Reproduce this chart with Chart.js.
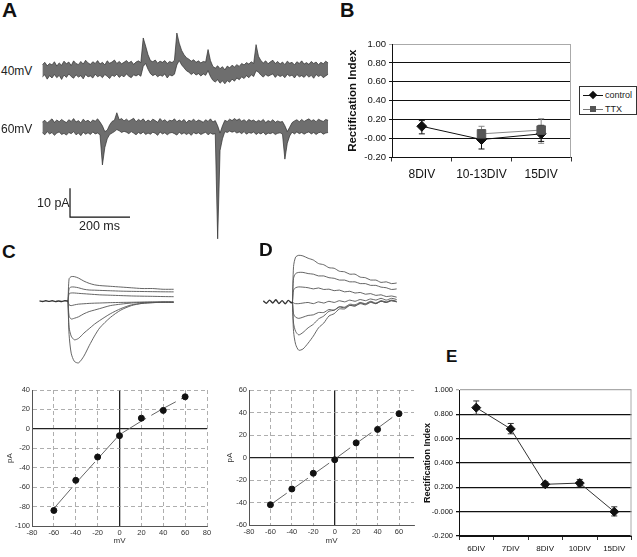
<!DOCTYPE html>
<html>
<head>
<meta charset="utf-8">
<script src="https://cdn.jsdelivr.net/npm/chart.js@4.4.1/dist/chart.umd.min.js"></script>
<style>
  body { margin: 0; background: #fff; }
  #page { position: relative; width: 637px; height: 557px; overflow: hidden; background: #fff;
          font-family: 'Liberation Sans', Arial, sans-serif; color: #222; }
  canvas { position: absolute; }
  .lbl { position: absolute; font-weight: bold; line-height: 1; color: #111; }
  .txt { position: absolute; font-size: 12px; line-height: 12px; color: #222; white-space: nowrap; }
  #legB { position: absolute; left: 579px; top: 86px; width: 56px; height: 27px; border: 1px solid #333;
          font-size: 9px; line-height: 10px; }
  #legB .ln { position: absolute; left: 3px; width: 20px; height: 1px; }
  #legB .mk { position: absolute; width: 6px; height: 6px; }
  #legB .tx { position: absolute; left: 25px; }
</style>
</head>
<body>
<div id="page">
  <canvas id="traceA" width="295" height="229" style="left:40px;top:20px"></canvas>
  <canvas id="chartB" width="232" height="152" style="left:346px;top:34px"></canvas>
  <canvas id="traceC" width="150" height="110" style="left:30px;top:264px"></canvas>
  <canvas id="traceD" width="150" height="112" style="left:255px;top:250px"></canvas>
  <canvas id="ivC" width="210" height="166" style="left:5px;top:380px"></canvas>
  <canvas id="ivD" width="195" height="166" style="left:225px;top:380px"></canvas>
  <canvas id="chartE" width="215" height="177" style="left:422px;top:378px"></canvas>

  <div class="lbl" style="left:2px;top:-1px;font-size:21px">A</div>
  <div class="lbl" style="left:340px;top:0px;font-size:20px">B</div>
  <div class="lbl" style="left:2px;top:242px;font-size:19px">C</div>
  <div class="lbl" style="left:259px;top:240px;font-size:19px">D</div>
  <div class="lbl" style="left:446px;top:348px;font-size:17px">E</div>

  <div class="txt" style="left:1px;top:65px">40mV</div>
  <div class="txt" style="left:1px;top:123px">60mV</div>
  <div class="txt" style="left:37px;top:197px;font-size:12.5px">10 pA</div>
  <div class="txt" style="left:79px;top:220px;font-size:12.5px">200 ms</div>

  <div id="legB">
    <div class="ln" style="top:8px;background:#111"></div>
    <div class="mk" style="left:10px;top:5px;background:#111;transform:rotate(45deg)"></div>
    <div class="tx" style="top:3px">control</div>
    <div class="ln" style="top:22px;background:#777"></div>
    <div class="mk" style="left:10px;top:19px;background:#555"></div>
    <div class="tx" style="top:17px">TTX</div>
  </div>
</div>

<script>
Chart.defaults.font.family = "'Liberation Sans', Arial, sans-serif";
Chart.defaults.color = '#222';

// ---- panel A: spontaneous currents (pA), max/min envelope per 8 ms bin ----
const sampleMs = 8;
const trace40Hi = [
  1.6, 2.4, 1.2, 2.0, 1.5, 2.6, 1.1, 2.2, 1.4, 2.8,
  1.9, 2.5, 1.3, 2.9, 2.0, 1.6, 2.7, 1.8, 3.1, 2.2,
  1.7, 2.6, 2.0, 3.0, 1.8, 2.4, 1.5, 2.9, 2.1, 2.5,
  3.2, 2.0, 2.7, 1.9, 2.4, 3.0, 2.2, 2.8, 1.7, 2.5,
  2.9, 2.3, 10.8, 8.0, 5.0, 3.0, 2.6, 3.2, 2.1, 2.8,
  2.4, 3.0, 2.0, 2.7, 2.3, 3.1,
  12.5, 9.0, 6.5, 5.0, 4.0, 3.5, 2.8, 3.3, 2.4, 2.9, 2.2, 2.7, 2.5,
  6.8, 3.0, 1.0, 0.4, 1.2, 0.2, 0.9, -0.2, 1.1, 0.5, 1.4, 0.8, 1.6, 1.0, 2.0, 1.5, 2.3, 1.8, 2.6, 2.0,
  8.5, 4.5, 3.0, 2.2, 2.9, 1.9, 2.6, 3.1, 2.0, 2.7, 1.8,
  2.5, 1.6, 2.8, 2.1, 2.4, 1.5, 2.6, 2.0, 2.9, 1.8,
  2.3, 1.7, 2.7, 2.0, 2.5, 1.6, 2.4, 1.9, 2.8, 2.2
];
const trace40Lo = [
  -2.6, -1.9, -3.4, -2.2, -3.0, -1.8, -2.9, -2.1, -3.5, -2.0,
  -2.8, -1.6, -2.5, -3.1, -1.9, -2.7, -2.2, -3.3, -1.8, -2.6,
  -2.3, -3.0, -1.7, -2.6, -2.1, -2.9, -1.8, -2.4, -3.2, -2.0,
  -2.5, -1.7, -2.8, -2.1, -2.6, -1.6, -2.4, -2.9, -1.9, -2.3,
  -1.8, -2.4, 1.0, 2.0, 0.0, -1.5, -2.2, -1.7, -2.6, -2.0,
  -2.4, -1.6, -3.0, -1.9, -2.3, -1.7,
  1.5, 3.0, 1.5, 0.5, -0.5, -1.0, -1.8, -1.2, -2.0, -1.5, -2.3, -1.6, -2.1,
  -0.5, -2.5, -3.8, -4.4, -3.6, -4.8, -4.0, -5.0, -3.9, -4.5, -3.4, -4.1, -3.0, -3.6, -2.6, -3.2, -2.2, -2.9, -1.9, -2.5,
  -0.5, -1.0, -2.0, -2.7, -1.8, -2.4, -2.0, -1.6, -2.8, -1.9, -2.5,
  -2.1, -2.9, -1.7, -2.4, -2.0, -3.0, -1.8, -2.6, -2.2, -2.8,
  -1.9, -2.7, -2.1, -3.1, -1.8, -2.5, -2.0, -2.9, -2.3, -1.7
];
const trace60Hi = [
  1.8, 2.4, 1.5, 2.2, 2.9, 1.7, 2.5, 1.9, 2.7, 2.1,
  1.6, 2.6, 2.0, 3.0, 1.8, 2.3, 1.5, 2.8, 2.0, 2.4,
  1.7, 2.5, 2.1, 2.9, 1.8,
  0.5, -1.5, -1.0, 0.8, 2.0, 2.4, 5.0, 2.6, 3.0, 2.2,
  2.8, 2.1, 2.6, 3.1, 1.9, 2.7, 2.2, 2.9, 1.8, 2.5,
  2.0, 2.8, 2.3, 1.7, 3.0, 2.1, 2.6, 1.8, 2.4, 2.2,
  2.9, 1.9, 2.5, 2.0, 2.7, 1.6, 2.4, 2.1, 2.8, 1.9,
  2.5, 2.2, 1.7, 2.6, 2.0, 2.9, 1.8, 2.3,
  0.5, -2.0, 0.5, 2.4, 2.0, 2.8, 2.3,
  3.0, 2.4, 2.9, 2.1, 2.6, 1.9, 2.7, 2.2, 2.5, 1.8,
  2.4, 2.0, 2.7, 1.6, 2.3, 1.9, 2.6, 1.7, 2.2, 1.8, 2.0,
  0.5, -1.5, 0.0, 1.6, 2.2, 2.6, 1.9,
  2.7, 2.0, 2.5, 2.9, 2.2, 2.6, 1.9, 2.8, 2.3, 2.0, 2.7, 2.4
];
const trace60Lo = [
  -1.9, -2.6, -1.5, -2.3, -1.8, -2.8, -2.0, -1.6, -2.5, -2.1,
  -2.7, -1.8, -2.2, -1.5, -2.6, -2.0, -2.9, -1.7, -2.4, -1.9,
  -2.5, -1.6, -2.3, -2.0, -2.6,
  -13.0, -7.0, -4.0, -2.5, -2.0, -1.5, -0.8, -1.2, -1.8, -1.4,
  -1.7, -2.2, -1.5, -2.0, -2.6, -1.8, -2.3, -1.6, -2.5, -2.0,
  -2.4, -1.7, -2.1, -2.8, -1.6, -2.3, -1.9, -2.6, -2.0, -1.8,
  -2.2, -2.7, -1.7, -2.4, -1.9, -2.5, -2.0, -2.8, -1.8, -2.3,
  -1.9, -2.5, -2.1, -1.7, -2.6, -2.0, -2.4, -2.2,
  -38.5, -8.0, -4.0, -1.5, -1.8, -1.3, -1.7,
  -1.4, -2.0, -1.6, -2.2, -1.5, -2.4, -1.8, -2.1, -1.6, -2.5,
  -1.9, -2.3, -1.7, -2.6, -2.0, -2.2, -1.8, -2.5, -2.1, -1.9, -2.4,
  -11.0, -5.5, -3.0, -1.7, -2.3, -1.6, -2.2,
  -1.8, -2.4, -1.9, -1.6, -2.3, -1.8, -2.5, -1.9, -1.7, -2.4, -2.0, -1.8
];
const holdingOffsetPA = -20;   // vertical separation of the two traces
const scaleBarPA = 10;
const scaleBarMs = 200;

// ---- panel B: rectification index ----
const bCategories = ['8DIV', '10-13DIV', '15DIV'];
const bControl = [0.13, -0.01, 0.05];
const bControlLow = [0.05, -0.11, -0.03];
const bControlHigh = [0.19, 0.09, 0.14];
const bTTX = [null, 0.05, 0.09];
const bTTXLow = [null, -0.02, -0.05];
const bTTXHigh = [null, 0.13, 0.21];

// ---- panel C: current families (ms, pA) ----
const cPreTimes = [-27, -24, -21, -18, -15, -12, -9, -6, -3, 0];
const cPre = [0.4, -0.5, 0.6, -0.3, 0.5, -0.6, 0.3, -0.4, 0.5, 0];
const cTimes = [0, 1, 3, 6, 10, 15, 20, 25, 30, 40, 50, 60, 70, 80, 90, 100];
const cCurves = [
  [0, 30, 33, 33, 31, 27, 24, 22, 21, 20, 19, 18, 17, 17, 16, 16],
  [0, 17, 19, 19, 18, 16, 15, 14.8, 14.5, 14, 13.5, 13.2, 13, 12.8, 12.6, 12.5],
  [0, 10, 11, 11, 10.5, 10, 9.5, 9, 8.5, 8, 7.5, 7, 6.7, 6.5, 6.2, 6],
  [0, -5, -6, -5, -4, -3.5, -3, -2.7, -2.5, -2, -1.7, -1.5, -1.2, -1, -1, -1],
  [0, -20, -24, -23, -21, -17, -14, -12, -10, -6, -4, -2.5, -1.8, -1.5, -1.2, -1.2],
  [0, -35, -47, -52, -50, -43, -37, -31, -26, -17, -10, -5, -3, -2, -1.5, -1.5],
  [0, -45, -70, -81, -83, -74, -60, -47, -36, -22, -12, -6, -3, -2, -1.5, -1.5]
];
const cVolts = [-60, -40, -20, 0, 20, 40, 60];
const cPeak = [-84, -53, -29, -7, 11, 19, 33];
const cFit = [-82, -56, -31, -6, 8, 21, 33];

// ---- panel D ----
const dPreTimes = [-28, -25, -22, -19, -16, -13, -10, -7, -4, -1, 0];
const dPre = [0.8, -1.2, 1.5, -0.9, 1.8, -1.4, 1.1, -1.6, 1.3, -0.8, 0];
const dTimes = [0, 1, 3, 6, 10, 15, 20, 25, 30, 35, 40, 45, 50, 55, 60, 65, 70, 75, 80, 85, 90, 95, 100];
const dCurves = [
  [0, 30, 38, 39.5, 39, 37, 35.5, 32.5, 31.5, 29, 28.5, 26, 25.5, 23.5, 23.5, 21, 20.5, 18.5, 18.5, 16.5, 17, 15.5, 16],
  [0, 20, 24, 25, 25, 24, 23.5, 22, 22, 20.5, 20, 18.5, 18.5, 17, 17, 15.5, 15.5, 14, 14, 12.5, 12, 10.5, 11],
  [0, 10, 12, 12.7, 12.5, 12, 11, 11.8, 10.5, 10.8, 9.5, 10, 8.5, 9, 7.5, 8, 6.5, 7, 5.5, 6, 4.5, 5, 4],
  [0, -1, -1.5, -1.5, -1, -0.5, -1.5, 0, -1, 0.5, -0.5, 1, 0, 1.5, 0.5, 2, 1, 2.5, 1.5, 3, 1.5, 3, 2],
  [0, -10, -13, -14, -13, -11.5, -11, -9, -9, -6.5, -7, -4.5, -5, -3, -3.5, -1.5, -2.5, -0.5, -1.5, 0.5, -0.5, 1, 0],
  [0, -18, -25, -28, -26, -22, -19, -14.5, -12, -8, -7, -4, -4.5, -2, -2.5, -0.5, -1.5, 0.5, -1, 1, 0, 1.5, 0.5],
  [0, -25, -36, -41, -40, -35, -29, -22, -18, -12, -10, -6, -6, -3, -3.5, -1, -2, 0, -1.5, 0.5, -0.5, 1, 0]
];
const dVolts = [-60, -40, -20, 0, 20, 40, 60];
const dPeak = [-42, -28, -14, -2, 13, 25, 39];
const dFit = [-42, -28.5, -15, -1.5, 12.5, 26, 40];

// ---- panel E ----
const eCategories = ['6DIV', '7DIV', '8DIV', '10DIV', '15DIV'];
const eValues = [0.855, 0.68, 0.225, 0.235, 0.0];
const eLow = [0.80, 0.64, 0.21, 0.21, -0.035];
const eHigh = [0.91, 0.725, 0.245, 0.265, 0.04];

const quiet = { legend: { display: false }, tooltip: { enabled: false } };

const errorBars = {
  id: 'errorBars',
  beforeDatasetsDraw(chart) {
    const ctx = chart.ctx, y = chart.scales.y;
    chart.data.datasets.forEach((ds, di) => {
      if (!ds.errLow) return;
      const meta = chart.getDatasetMeta(di);
      ctx.save();
      ctx.strokeStyle = ds.borderColor;
      ctx.lineWidth = 1;
      meta.data.forEach((pt, i) => {
        if (ds.errLow[i] == null) return;
        const t = y.getPixelForValue(ds.errHigh[i]), b = y.getPixelForValue(ds.errLow[i]);
        ctx.beginPath();
        ctx.moveTo(pt.x, t); ctx.lineTo(pt.x, b);
        ctx.moveTo(pt.x - 3, t); ctx.lineTo(pt.x + 3, t);
        ctx.moveTo(pt.x - 3, b); ctx.lineTo(pt.x + 3, b);
        ctx.stroke();
      });
      ctx.restore();
    });
  }
};

const rightFrame = {
  id: 'rightFrame',
  afterDraw(chart) {
    const a = chart.chartArea, ctx = chart.ctx;
    ctx.save();
    ctx.strokeStyle = '#aaa';
    ctx.lineWidth = 1;
    ctx.beginPath();
    ctx.moveTo(a.right - 0.5, a.top);
    ctx.lineTo(a.right - 0.5, a.bottom);
    ctx.stroke();
    ctx.restore();
  }
};

const scaleBar = {
  id: 'scaleBar',
  afterDatasetsDraw(chart, args, opts) {
    const x = chart.scales.x, y = chart.scales.y, ctx = chart.ctx;
    const x0 = x.getPixelForValue(opts.ms), y0 = y.getPixelForValue(opts.pA);
    const x1 = x.getPixelForValue(opts.ms + scaleBarMs), y1 = y.getPixelForValue(opts.pA + scaleBarPA);
    ctx.save();
    ctx.strokeStyle = '#111';
    ctx.lineWidth = 1.2;
    ctx.beginPath();
    ctx.moveTo(x0, y1); ctx.lineTo(x0, y0); ctx.lineTo(x1, y0);
    ctx.stroke();
    ctx.restore();
  }
};

function xy(xs, ys) { return xs.map((v, i) => ({ x: v, y: ys[i] })); }
function binned(vals, offset) { return vals.map((v, i) => ({ x: sampleMs * (i + 1), y: v + offset })); }

// panel A: each trace drawn as a filled band between its bin max and bin min
const band = { borderColor: '#2e2e2e', borderWidth: 0.7, backgroundColor: '#6e6e6e' };
new Chart(document.getElementById('traceA'), {
  type: 'line',
  data: {
    datasets: [
      { ...band, data: binned(trace40Hi, 0) },
      { ...band, data: binned(trace40Lo, 0), fill: '-1' },
      { ...band, data: binned(trace60Hi, holdingOffsetPA) },
      { ...band, data: binned(trace60Lo, holdingOffsetPA), fill: '-1' }
    ]
  },
  options: {
    animation: false, responsive: false, events: [],
    plugins: { ...quiet, scaleBar: { ms: 100, pA: -51 } },
    elements: { line: { tension: 0 }, point: { radius: 0 } },
    scales: { x: { type: 'linear', display: false, min: 0, max: 983 }, y: { display: false, min: -62, max: 17 } }
  },
  plugins: [scaleBar]
});

// panels C and D current families
function family(id, preT, pre, times, curves, xr, yr) {
  const sets = [{ data: xy(preT, pre), borderColor: '#333', borderWidth: 1.4 }]
    .concat(curves.map(c => ({ data: xy(times, c) })));
  new Chart(document.getElementById(id), {
    type: 'line',
    data: { datasets: sets },
    options: {
      animation: false, responsive: false, events: [],
      plugins: quiet,
      elements: { line: { borderColor: '#555', borderWidth: 0.9, tension: 0.25 }, point: { radius: 0 } },
      scales: { x: { type: 'linear', display: false, min: xr[0], max: xr[1] }, y: { display: false, min: yr[0], max: yr[1] } }
    }
  });
}
family('traceC', cPreTimes, cPre, cTimes, cCurves, [-36, 106], [-98, 50]);
family('traceD', dPreTimes, dPre, dTimes, dCurves, [-36, 108], [-51, 44]);

// IV plots
function isZero(c) { return c.tick && Math.abs(c.tick.value) < 1e-9; }
function ivAxis(title, min, max, size) {
  return {
    type: 'linear', min: min, max: max,
    afterFit: s => { if (s.isHorizontal()) s.height = size; else s.width = size; },
    ticks: { stepSize: 20, includeBounds: false, font: { size: 7.5 }, color: '#333', padding: 2, maxRotation: 0 },
    grid: { drawTicks: false, color: c => isZero(c) ? '#222' : '#999', lineWidth: c => isZero(c) ? 1.3 : 0.8 },
    border: { color: '#555', width: 1, dash: c => isZero(c) ? [] : [4, 3] },
    title: { display: true, text: title, font: { size: 8 }, color: '#333', padding: 0 }
  };
}
function ivChart(id, volts, peak, fit, xr, yr, pad, xh, yw, dash) {
  new Chart(document.getElementById(id), {
    type: 'scatter',
    data: {
      datasets: [
        { data: xy(volts, peak), backgroundColor: '#111', borderColor: '#111', pointRadius: 3 },
        { data: xy(volts, fit), showLine: true, borderColor: '#666', borderWidth: 1, borderDash: dash, pointRadius: 0 }
      ]
    },
    options: {
      animation: false, responsive: false, events: [],
      plugins: quiet,
      layout: { padding: { top: pad[0], right: pad[1], left: 0, bottom: 0 } },
      scales: { x: ivAxis('mV', xr[0], xr[1], xh), y: ivAxis('pA', yr[0], yr[1], yw) }
    }
  });
}
ivChart('ivC', cVolts, cPeak, cFit, [-80, 80], [-100, 40], [10, 8], 20, 27, [28, 6]);
ivChart('ivD', dVolts, dPeak, dFit, [-80, 74], [-60, 60], [10, 6], 21, 24, [20, 6]);

// rectification index charts
function isTop(c) { return c.tick && Math.abs(c.tick.value - 1) < 1e-9; }
function riChart(id, labels, datasets, o) {
  new Chart(document.getElementById(id), {
    type: 'line',
    data: { labels: labels, datasets: datasets },
    options: {
      animation: false, responsive: false, events: [],
      plugins: quiet,
      layout: { padding: { top: o.top, right: o.right, left: 0, bottom: 0 } },
      scales: {
        x: {
          offset: true,
          afterFit: s => { s.height = o.xh; },
          grid: { offset: true, drawOnChartArea: false, drawTicks: true, tickLength: 4, color: '#333' },
          border: { color: '#111', width: 1 },
          ticks: { font: { size: o.catSize }, color: '#111', padding: o.catPad, maxRotation: 0, autoSkip: false }
        },
        y: {
          min: -0.2, max: 1.0,
          afterFit: s => { s.width = o.yw; },
          ticks: { stepSize: 0.2, callback: v => v.toFixed(o.digits), font: { size: o.tickSize }, color: '#111', padding: 3 },
          grid: { color: c => isTop(c) ? '#aaa' : '#111', lineWidth: o.gridW, drawTicks: true, tickLength: 3 },
          border: { color: '#111', width: 1 },
          title: { display: true, text: 'Rectification Index', font: { size: o.titleSize, weight: 'bold' }, color: '#111', padding: 0 }
        }
      }
    },
    plugins: [errorBars, rightFrame]
  });
}

riChart('chartB', bCategories, [
  { data: bTTX, errLow: bTTXLow, errHigh: bTTXHigh, borderColor: '#888', backgroundColor: '#555', pointBorderColor: '#555',
    pointStyle: 'rect', pointRadius: 6, borderWidth: 1 },
  { data: bControl, errLow: bControlLow, errHigh: bControlHigh, borderColor: '#111', backgroundColor: '#111',
    pointStyle: 'rectRot', pointRadius: 5, borderWidth: 1 }
], { top: 10, right: 6, xh: 28.5, yw: 46, catSize: 12, catPad: 6, tickSize: 9.5, digits: 2, gridW: 1, titleSize: 11.5 });

riChart('chartE', eCategories, [
  { data: eValues, errLow: eLow, errHigh: eHigh, borderColor: '#333', backgroundColor: '#111', pointBorderColor: '#111',
    pointStyle: 'rectRot', pointRadius: 4.5, borderWidth: 1 }
], { top: 12, right: 3, xh: 19, yw: 37, catSize: 8, catPad: 4, tickSize: 7.5, digits: 3, gridW: 1.3, titleSize: 9 });
</script>
</body>
</html>
